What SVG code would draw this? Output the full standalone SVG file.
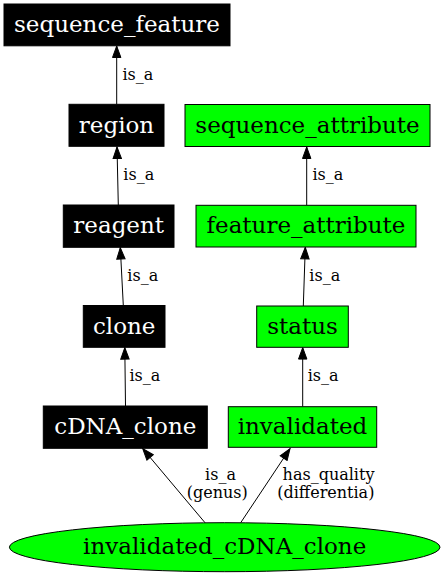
<svg xmlns="http://www.w3.org/2000/svg" width="445" height="576" viewBox="0 0 445 576">
<style>
.blk rect{fill:#000;stroke:#000;stroke-width:1}
.grn rect,.grn ellipse{fill:#00ff00;stroke:#000;stroke-width:1}
.nt{font-family:"DejaVu Serif",serif;font-size:23px;text-anchor:middle}
.blk text{fill:#fff}
.grn text{fill:#000}
.edges line{stroke:#000;stroke-width:1;marker-end:url(#arr)}
.el{font-family:"DejaVu Serif",serif;font-size:16px;fill:#000}
</style>
<defs>
<marker id="arr" markerUnits="userSpaceOnUse" markerWidth="14" markerHeight="10" viewBox="0 -5 12 10" refX="11.5" refY="0" orient="auto">
<path d="M0,-4.2 L11.5,0 L0,4.2 z" fill="#000" stroke="#000" stroke-width="1"/>
</marker>
</defs>
<rect width="445" height="576" fill="#fff"/>
<g class="edges">
<line x1="116.7" y1="104.3" x2="116.7" y2="46"/>
<line x1="118.3" y1="205" x2="117" y2="147"/>
<line x1="123.3" y1="305.5" x2="120.3" y2="247.6"/>
<line x1="125.5" y1="406" x2="124.8" y2="347.6"/>
<line x1="306.7" y1="205.3" x2="306.7" y2="147"/>
<line x1="303.3" y1="306" x2="305.3" y2="247.3"/>
<line x1="302.7" y1="406.7" x2="302.7" y2="347.6"/>
<line x1="205" y1="522.7" x2="142.7" y2="448.6"/>
<line x1="240.7" y1="522.7" x2="290" y2="448.6"/>
<text class="el" x="122.5" y="80">is_a</text>
<text class="el" x="123.3" y="180">is_a</text>
<text class="el" x="127.3" y="281">is_a</text>
<text class="el" x="129.5" y="381">is_a</text>
<text class="el" x="312.5" y="180">is_a</text>
<text class="el" x="309.3" y="281">is_a</text>
<text class="el" x="307.7" y="381">is_a</text>
<text class="el" x="220.5" y="480" text-anchor="middle">is_a</text>
<text class="el" x="217.3" y="498" text-anchor="middle">(genus)</text>
<text class="el" x="328.5" y="480" text-anchor="middle">has_quality</text>
<text class="el" x="325.8" y="498" text-anchor="middle">(differentia)</text>
</g>
<g id="sequence_feature" class="blk"><rect x="4" y="4" width="226" height="41.8"/><text class="nt" x="117" y="32">sequence_feature</text></g>
<g id="region" class="blk"><rect x="69" y="104.3" width="95" height="42"/><text class="nt" x="116.5" y="132.5">region</text></g>
<g id="reagent" class="blk"><rect x="63.3" y="205" width="110.7" height="42.3"/><text class="nt" x="118.7" y="233">reagent</text></g>
<g id="clone" class="blk"><rect x="83.3" y="305.5" width="81.7" height="41.8"/><text class="nt" x="124.2" y="333.5">clone</text></g>
<g id="cDNA_clone" class="blk"><rect x="43.3" y="406" width="164" height="42.3"/><text class="nt" x="125.3" y="434">cDNA_clone</text></g>
<g id="sequence_attribute" class="grn"><rect x="185" y="104.5" width="245" height="42"/><text class="nt" x="307.5" y="132.5">sequence_attribute</text></g>
<g id="feature_attribute" class="grn"><rect x="196" y="205.3" width="220" height="41.7"/><text class="nt" x="306" y="233">feature_attribute</text></g>
<g id="status" class="grn"><rect x="256.7" y="306" width="91.6" height="41.3"/><text class="nt" x="302.5" y="333.5">status</text></g>
<g id="invalidated" class="grn"><rect x="228.3" y="406.7" width="148.4" height="40.6"/><text class="nt" x="302.5" y="434">invalidated</text></g>
<g id="invalidated_cDNA_clone" class="grn"><ellipse cx="224.7" cy="547.2" rx="215.3" ry="24.5"/><text class="nt" x="224.7" y="554">invalidated_cDNA_clone</text></g>
</svg>
